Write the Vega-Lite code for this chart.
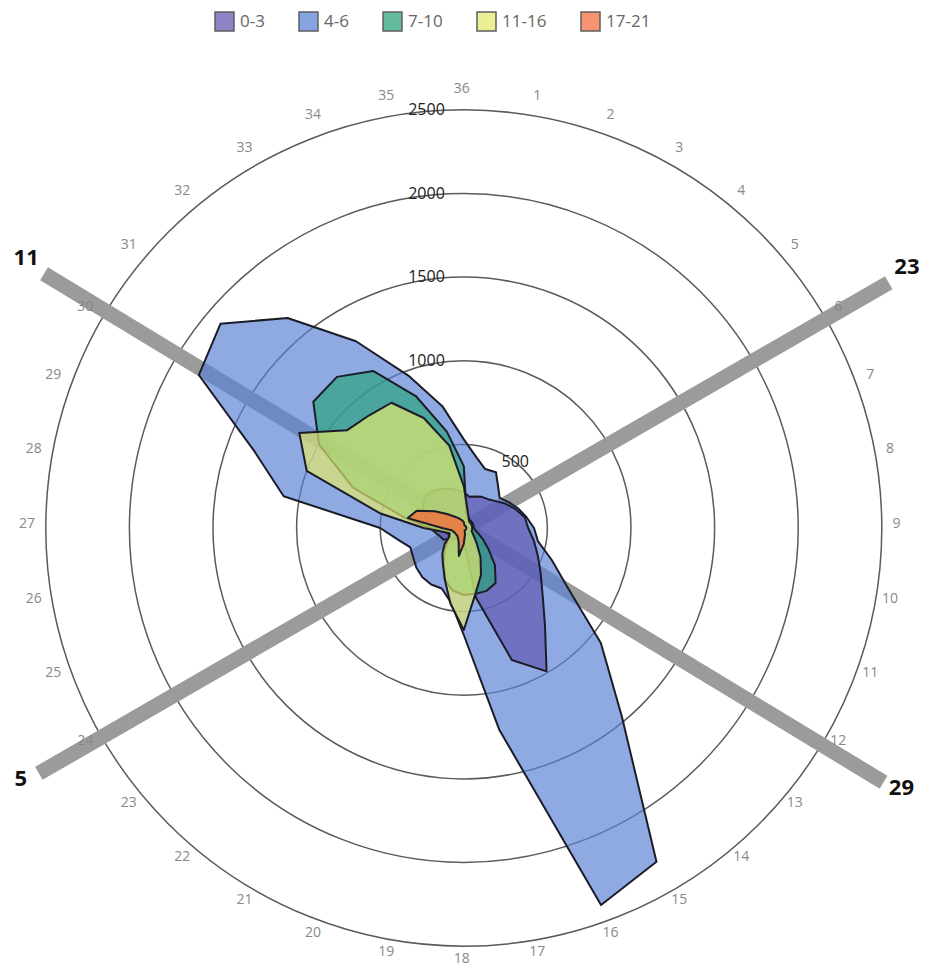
{
  "$schema": "https://vega.github.io/schema/vega-lite/v6.json",
  "width": 929,
  "height": 971,
  "autosize": {"type": "none"},
  "padding": 0,
  "background": "white",
  "config": {
    "view": {"stroke": null},
    "legend": {
      "orient": "none", "legendX": 214, "legendY": 11, "direction": "horizontal",
      "symbolType": "square", "symbolSize": 361, "symbolStrokeColor": "#222", "symbolStrokeWidth": 1.5, "symbolOpacity": 0.72,
      "labelFont": "Open Sans", "labelFontSize": 17, "labelColor": "#666", "labelOffset": 5,
      "columnPadding": 31, "padding": 0
    }
  },
  "datasets": {
    "rose": [
      {"dir":1,"speed":"4-6","count":430},{"dir":2,"speed":"4-6","count":375},{"dir":3,"speed":"4-6","count":385},{"dir":4,"speed":"4-6","count":320},{"dir":5,"speed":"4-6","count":280},{"dir":6,"speed":"4-6","count":310},{"dir":7,"speed":"4-6","count":345},{"dir":8,"speed":"4-6","count":380},{"dir":9,"speed":"4-6","count":420},{"dir":10,"speed":"4-6","count":450},{"dir":11,"speed":"4-6","count":560},{"dir":12,"speed":"4-6","count":720},{"dir":13,"speed":"4-6","count":1070},{"dir":14,"speed":"4-6","count":1470},{"dir":15,"speed":"4-6","count":2305},{"dir":16,"speed":"4-6","count":2400},{"dir":17,"speed":"4-6","count":1227},{"dir":18,"speed":"4-6","count":640},{"dir":19,"speed":"4-6","count":450},{"dir":20,"speed":"4-6","count":385},{"dir":21,"speed":"4-6","count":390},{"dir":22,"speed":"4-6","count":385},{"dir":23,"speed":"4-6","count":370},{"dir":24,"speed":"4-6","count":350},{"dir":25,"speed":"4-6","count":340},{"dir":26,"speed":"4-6","count":400},{"dir":27,"speed":"4-6","count":500},{"dir":28,"speed":"4-6","count":1094},{"dir":29,"speed":"4-6","count":1330},{"dir":30,"speed":"4-6","count":1830},{"dir":31,"speed":"4-6","count":1900},{"dir":32,"speed":"4-6","count":1640},{"dir":33,"speed":"4-6","count":1290},{"dir":34,"speed":"4-6","count":970},{"dir":35,"speed":"4-6","count":740},{"dir":36,"speed":"4-6","count":530},
      {"dir":1,"speed":"0-3","count":190},{"dir":2,"speed":"0-3","count":200},{"dir":3,"speed":"0-3","count":215},{"dir":4,"speed":"0-3","count":225},{"dir":5,"speed":"0-3","count":250},{"dir":6,"speed":"0-3","count":290},{"dir":7,"speed":"0-3","count":330},{"dir":8,"speed":"0-3","count":370},{"dir":9,"speed":"0-3","count":385},{"dir":10,"speed":"0-3","count":425},{"dir":11,"speed":"0-3","count":470},{"dir":12,"speed":"0-3","count":530},{"dir":13,"speed":"0-3","count":615},{"dir":14,"speed":"0-3","count":755},{"dir":15,"speed":"0-3","count":990},{"dir":16,"speed":"0-3","count":840},{"dir":17,"speed":"0-3","count":425},{"dir":18,"speed":"0-3","count":80},{"dir":19,"speed":"0-3","count":60},{"dir":20,"speed":"0-3","count":60},{"dir":21,"speed":"0-3","count":70},{"dir":22,"speed":"0-3","count":80},{"dir":23,"speed":"0-3","count":100},{"dir":24,"speed":"0-3","count":140},{"dir":25,"speed":"0-3","count":150},{"dir":26,"speed":"0-3","count":170},{"dir":27,"speed":"0-3","count":200},{"dir":28,"speed":"0-3","count":230},{"dir":29,"speed":"0-3","count":250},{"dir":30,"speed":"0-3","count":280},{"dir":31,"speed":"0-3","count":300},{"dir":32,"speed":"0-3","count":290},{"dir":33,"speed":"0-3","count":270},{"dir":34,"speed":"0-3","count":250},{"dir":35,"speed":"0-3","count":230},{"dir":36,"speed":"0-3","count":215},
      {"dir":1,"speed":"7-10","count":90},{"dir":2,"speed":"7-10","count":70},{"dir":3,"speed":"7-10","count":60},{"dir":4,"speed":"7-10","count":60},{"dir":5,"speed":"7-10","count":60},{"dir":6,"speed":"7-10","count":60},{"dir":7,"speed":"7-10","count":60},{"dir":8,"speed":"7-10","count":60},{"dir":9,"speed":"7-10","count":60},{"dir":10,"speed":"7-10","count":70},{"dir":11,"speed":"7-10","count":90},{"dir":12,"speed":"7-10","count":130},{"dir":13,"speed":"7-10","count":190},{"dir":14,"speed":"7-10","count":290},{"dir":15,"speed":"7-10","count":380},{"dir":16,"speed":"7-10","count":400},{"dir":17,"speed":"7-10","count":400},{"dir":18,"speed":"7-10","count":400},{"dir":19,"speed":"7-10","count":380},{"dir":20,"speed":"7-10","count":330},{"dir":21,"speed":"7-10","count":240},{"dir":22,"speed":"7-10","count":180},{"dir":23,"speed":"7-10","count":130},{"dir":24,"speed":"7-10","count":100},{"dir":25,"speed":"7-10","count":100},{"dir":26,"speed":"7-10","count":120},{"dir":27,"speed":"7-10","count":200},{"dir":28,"speed":"7-10","count":360},{"dir":29,"speed":"7-10","count":705},{"dir":30,"speed":"7-10","count":1000},{"dir":31,"speed":"7-10","count":1175},{"dir":32,"speed":"7-10","count":1180},{"dir":33,"speed":"7-10","count":1085},{"dir":34,"speed":"7-10","count":840},{"dir":35,"speed":"7-10","count":585},{"dir":36,"speed":"7-10","count":370},
      {"dir":1,"speed":"11-16","count":120},{"dir":2,"speed":"11-16","count":80},{"dir":3,"speed":"11-16","count":60},{"dir":4,"speed":"11-16","count":50},{"dir":5,"speed":"11-16","count":50},{"dir":6,"speed":"11-16","count":50},{"dir":7,"speed":"11-16","count":50},{"dir":8,"speed":"11-16","count":50},{"dir":9,"speed":"11-16","count":50},{"dir":10,"speed":"11-16","count":50},{"dir":11,"speed":"11-16","count":50},{"dir":12,"speed":"11-16","count":60},{"dir":13,"speed":"11-16","count":80},{"dir":14,"speed":"11-16","count":120},{"dir":15,"speed":"11-16","count":200},{"dir":16,"speed":"11-16","count":300},{"dir":17,"speed":"11-16","count":400},{"dir":18,"speed":"11-16","count":610},{"dir":19,"speed":"11-16","count":460},{"dir":20,"speed":"11-16","count":330},{"dir":21,"speed":"11-16","count":250},{"dir":22,"speed":"11-16","count":200},{"dir":23,"speed":"11-16","count":150},{"dir":24,"speed":"11-16","count":100},{"dir":25,"speed":"11-16","count":90},{"dir":26,"speed":"11-16","count":130},{"dir":27,"speed":"11-16","count":240},{"dir":28,"speed":"11-16","count":510},{"dir":29,"speed":"11-16","count":1000},{"dir":30,"speed":"11-16","count":1136},{"dir":31,"speed":"11-16","count":910},{"dir":32,"speed":"11-16","count":880},{"dir":33,"speed":"11-16","count":865},{"dir":34,"speed":"11-16","count":700},{"dir":35,"speed":"11-16","count":500},{"dir":36,"speed":"11-16","count":250},
      {"dir":1,"speed":"17-21","count":20},{"dir":2,"speed":"17-21","count":15},{"dir":3,"speed":"17-21","count":15},{"dir":4,"speed":"17-21","count":15},{"dir":5,"speed":"17-21","count":15},{"dir":6,"speed":"17-21","count":15},{"dir":7,"speed":"17-21","count":15},{"dir":8,"speed":"17-21","count":15},{"dir":9,"speed":"17-21","count":15},{"dir":10,"speed":"17-21","count":15},{"dir":11,"speed":"17-21","count":15},{"dir":12,"speed":"17-21","count":15},{"dir":13,"speed":"17-21","count":15},{"dir":14,"speed":"17-21","count":15},{"dir":15,"speed":"17-21","count":15},{"dir":16,"speed":"17-21","count":15},{"dir":17,"speed":"17-21","count":40},{"dir":18,"speed":"17-21","count":95},{"dir":19,"speed":"17-21","count":170},{"dir":20,"speed":"17-21","count":90},{"dir":21,"speed":"17-21","count":70},{"dir":22,"speed":"17-21","count":60},{"dir":23,"speed":"17-21","count":60},{"dir":24,"speed":"17-21","count":60},{"dir":25,"speed":"17-21","count":65},{"dir":26,"speed":"17-21","count":75},{"dir":27,"speed":"17-21","count":130},{"dir":28,"speed":"17-21","count":340},{"dir":29,"speed":"17-21","count":300},{"dir":30,"speed":"17-21","count":200},{"dir":31,"speed":"17-21","count":130},{"dir":32,"speed":"17-21","count":90},{"dir":33,"speed":"17-21","count":70},{"dir":34,"speed":"17-21","count":55},{"dir":35,"speed":"17-21","count":45},{"dir":36,"speed":"17-21","count":35}
    ],
    "rings": [{"ring":500},{"ring":1000},{"ring":1500},{"ring":2000},{"ring":2500}],
    "runways": [
      {"rwy":"11-29","end":"29","bearing":121.2},{"rwy":"11-29","end":"11","bearing":301.2},
      {"rwy":"5-23","end":"23","bearing":60},{"rwy":"5-23","end":"5","bearing":240}
    ],
    "dirs": [{"dir":1},{"dir":2},{"dir":3},{"dir":4},{"dir":5},{"dir":6},{"dir":7},{"dir":8},{"dir":9},{"dir":10},{"dir":11},{"dir":12},{"dir":13},{"dir":14},{"dir":15},{"dir":16},{"dir":17},{"dir":18},{"dir":19},{"dir":20},{"dir":21},{"dir":22},{"dir":23},{"dir":24},{"dir":25},{"dir":26},{"dir":27},{"dir":28},{"dir":29},{"dir":30},{"dir":31},{"dir":32},{"dir":33},{"dir":34},{"dir":35},{"dir":36}]
  },
  "encoding": {
    "x": {"field": "x", "type": "quantitative", "scale": {"domain": [-2773.9, 2782.3], "nice": false, "zero": false}, "axis": null},
    "y": {"field": "y", "type": "quantitative", "scale": {"domain": [-2649.5, 3157.9], "nice": false, "zero": false}, "axis": null}
  },
  "layer": [
    {
      "data": {"name": "rings"},
      "transform": [{"calculate": "0", "as": "x"}, {"calculate": "0", "as": "y"}],
      "mark": {"type": "point", "shape": "circle", "filled": false, "stroke": "#5a5a5a", "strokeWidth": 1.5, "opacity": 1},
      "encoding": {
        "size": {"field": "ring", "type": "quantitative", "scale": {"type": "pow", "exponent": 2, "domain": [0, 2500], "range": [0, 698896], "zero": true}, "legend": null}
      }
    },
    {
      "data": {"name": "runways"},
      "transform": [
        {"calculate": "2935*sin(datum.bearing*PI/180)", "as": "x"},
        {"calculate": "2935*cos(datum.bearing*PI/180)", "as": "y"}
      ],
      "mark": {"type": "line", "stroke": "#9b9b9b", "strokeWidth": 15, "strokeCap": "butt"},
      "encoding": {"detail": {"field": "rwy"}}
    },
    {
      "data": {"name": "rose"},
      "transform": [
        {"filter": "datum.speed === '4-6'"},
        {"calculate": "datum.count*sin(datum.dir*PI/18)", "as": "x"},
        {"calculate": "datum.count*cos(datum.dir*PI/18)", "as": "y"}
      ],
      "mark": {"type": "line", "interpolate": "linear-closed", "stroke": "#1c1c28", "strokeWidth": 2, "fillOpacity": 0.68, "strokeJoin": "round"},
      "encoding": {
        "fill": {"field": "speed", "type": "nominal", "title": null,
          "scale": {"domain": ["0-3", "4-6", "7-10", "11-16", "17-21"], "range": ["#5f57af", "#5a82d6", "#2aa27a", "#e4ea6a", "#f56a3a"]}},
        "order": {"field": "dir", "type": "quantitative"}
      }
    },
    {
      "data": {"name": "rose"},
      "transform": [
        {"filter": "datum.speed === '0-3'"},
        {"calculate": "datum.count*sin(datum.dir*PI/18)", "as": "x"},
        {"calculate": "datum.count*cos(datum.dir*PI/18)", "as": "y"}
      ],
      "mark": {"type": "line", "interpolate": "linear-closed", "stroke": "#1c1c28", "strokeWidth": 2, "fillOpacity": 0.68, "strokeJoin": "round"},
      "encoding": {
        "fill": {"field": "speed", "type": "nominal", "title": null},
        "order": {"field": "dir", "type": "quantitative"}
      }
    },
    {
      "data": {"name": "rose"},
      "transform": [
        {"filter": "datum.speed === '7-10'"},
        {"calculate": "datum.count*sin(datum.dir*PI/18)", "as": "x"},
        {"calculate": "datum.count*cos(datum.dir*PI/18)", "as": "y"}
      ],
      "mark": {"type": "line", "interpolate": "linear-closed", "stroke": "#1c1c28", "strokeWidth": 2, "fillOpacity": 0.68, "strokeJoin": "round"},
      "encoding": {
        "fill": {"field": "speed", "type": "nominal", "title": null},
        "order": {"field": "dir", "type": "quantitative"}
      }
    },
    {
      "data": {"name": "rose"},
      "transform": [
        {"filter": "datum.speed === '11-16'"},
        {"calculate": "datum.count*sin(datum.dir*PI/18)", "as": "x"},
        {"calculate": "datum.count*cos(datum.dir*PI/18)", "as": "y"}
      ],
      "mark": {"type": "line", "interpolate": "linear-closed", "stroke": "#1c1c28", "strokeWidth": 2, "fillOpacity": 0.68, "strokeJoin": "round"},
      "encoding": {
        "fill": {"field": "speed", "type": "nominal", "title": null},
        "order": {"field": "dir", "type": "quantitative"}
      }
    },
    {
      "data": {"name": "rose"},
      "transform": [
        {"filter": "datum.speed === '17-21'"},
        {"calculate": "datum.count*sin(datum.dir*PI/18)", "as": "x"},
        {"calculate": "datum.count*cos(datum.dir*PI/18)", "as": "y"}
      ],
      "mark": {"type": "line", "interpolate": "linear-closed", "stroke": "#1c1c28", "strokeWidth": 2, "fillOpacity": 0.75, "strokeJoin": "round"},
      "encoding": {
        "fill": {"field": "speed", "type": "nominal", "title": null},
        "order": {"field": "dir", "type": "quantitative"}
      }
    },
    {
      "data": {"name": "dirs"},
      "transform": [
        {"calculate": "2600*sin(datum.dir*PI/18)", "as": "x"},
        {"calculate": "2600*cos(datum.dir*PI/18)", "as": "y"}
      ],
      "mark": {"type": "text", "font": "Open Sans", "fontSize": 14, "fill": "#888888", "align": "center", "baseline": "middle", "dx": -2, "dy": -4},
      "encoding": {"text": {"field": "dir", "type": "nominal"}}
    },
    {
      "data": {"name": "rings"},
      "transform": [
        {"filter": "datum.ring > 500"},
        {"calculate": "0", "as": "x"},
        {"calculate": "datum.ring", "as": "y"}
      ],
      "mark": {"type": "text", "font": "Open Sans", "fontSize": 16, "fill": "#222222", "align": "right", "baseline": "middle", "dx": -19},
      "encoding": {"text": {"field": "ring", "type": "nominal"}}
    },
    {
      "data": {"name": "rings"},
      "transform": [
        {"filter": "datum.ring === 500"},
        {"calculate": "datum.ring*sin(38*PI/180)", "as": "x"},
        {"calculate": "datum.ring*cos(38*PI/180)", "as": "y"}
      ],
      "mark": {"type": "text", "font": "Open Sans", "fontSize": 16, "fill": "#222222", "align": "center", "baseline": "middle"},
      "encoding": {"text": {"field": "ring", "type": "nominal"}}
    },
    {
      "data": {"name": "runways"},
      "transform": [
        {"calculate": "3060*sin(datum.bearing*PI/180)", "as": "x"},
        {"calculate": "3060*cos(datum.bearing*PI/180)", "as": "y"}
      ],
      "mark": {"type": "text", "font": "Open Sans", "fontSize": 22, "fontWeight": "bold", "fill": "#111111", "align": "center", "baseline": "middle", "dy": -5},
      "encoding": {"text": {"field": "end", "type": "nominal"}}
    }
  ]
}
